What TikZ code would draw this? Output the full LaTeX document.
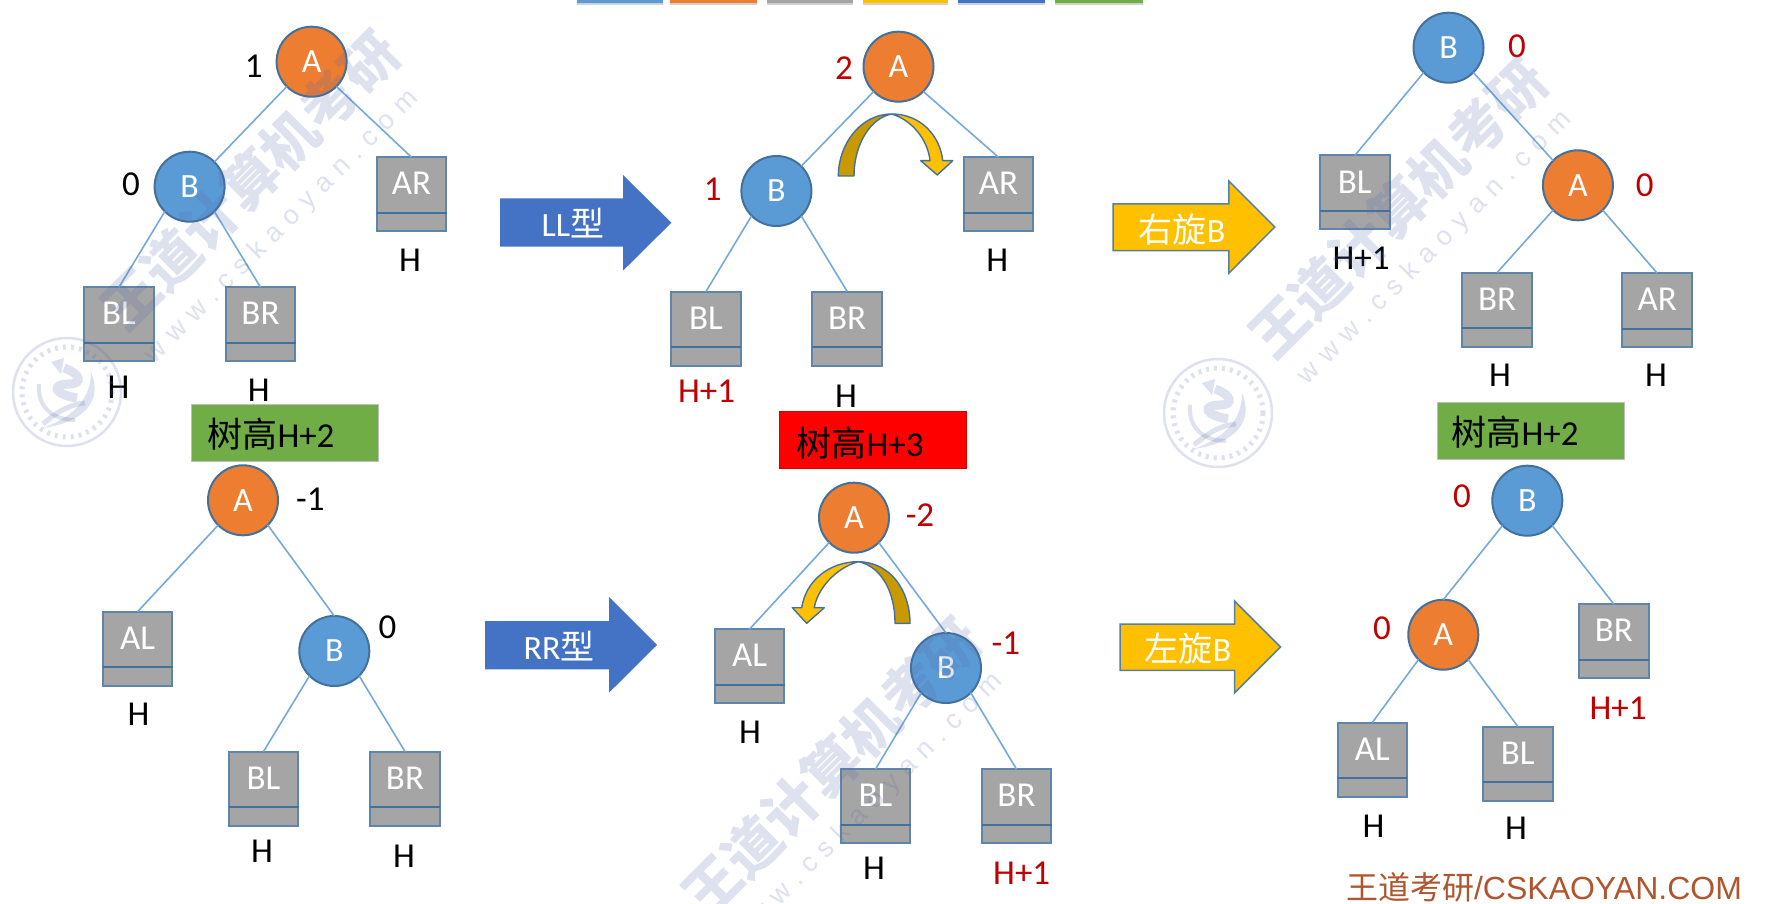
\documentclass[tikz,border=0pt]{standalone}
\usepackage{fontspec}
\setmainfont{Carlito}
\newfontfamily\cjk{Noto Sans CJK SC}
\newfontfamily\libs{Liberation Sans}
\definecolor{cblue}{HTML}{5B9BD5}
\definecolor{corange}{HTML}{ED7D31}
\definecolor{cgrey}{HTML}{A5A5A5}
\definecolor{cgold}{HTML}{FFC000}
\definecolor{cdgold}{HTML}{C99A00}
\definecolor{carrow}{HTML}{4472C4}
\definecolor{cgreen}{HTML}{70AD47}
\definecolor{cedge}{HTML}{41719C}
\definecolor{cdark}{HTML}{C00000}
\definecolor{cfoot}{HTML}{B0562F}
\definecolor{cwm}{RGB}{90,105,170}
\tikzset{
  fs/.style={font=\fontsize{#1}{#1}\selectfont},
  bnode/.style={circle,minimum size=70pt,inner sep=0pt,outer sep=0pt,draw=cedge,line width=2pt,text=white,fs=34},
  nodea/.style={bnode,fill=corange},
  nodeb/.style={bnode,fill=cblue},
  treebox/.style={rectangle,minimum width=69.5pt,minimum height=74pt,inner sep=0pt,outer sep=0pt,draw=cedge!85!white,line width=2pt,fill=cgrey},
  divline/.style={draw=cedge,line width=2.2pt},
  boxtext/.style={text=white,inner sep=0pt,fs=35},
  link/.style={draw=cblue!85!white,line width=1.6pt},
  lab/.style={inner sep=0pt,text=black,fs=35},
  rlab/.style={lab,text=cdark},
  heightbox/.style={rectangle,inner sep=0pt,outer sep=0pt,line width=1pt},
  heighttext/.style={inner sep=0pt,text=black,fs=35},
  bigarrow/.style={fill=carrow},
  goldarrow/.style={fill=cgold,draw=cedge!90!white,line width=1.5pt,line join=miter},
  arrowtext/.style={inner sep=0pt,text=white,fs=34},
  curlin/.style={draw=cedge,line width=1.4pt,line join=round},
  wmtext/.style={inner sep=0pt,text=cwm,text opacity=0.2,rotate=45},
}
\newcommand{\treebx}[4]{%
  \node[treebox] (#1) at (#2,#3+37.5) {};
  \draw[divline] (#2-35,#3+56) -- (#2+35,#3+56);
  \node[boxtext] (#1-t) at (#2,#3+27) {#4};
}
\newcommand{\seal}[3]{%
  \begin{scope}[shift={(#2,#3)},draw=cwm,opacity=0.2]
    \draw[line width=2.5pt] (0,0) circle (54);
    \draw[line width=5pt,dash pattern=on 3pt off 5pt] (0,0) circle (45);
    \draw[line width=4pt] (-28,-8) .. controls (-30,15) and (-14,28) .. (8,28);
    \draw[line width=9pt] (-3,-24) .. controls (14,-18) and (16,-8) .. (2,-8) .. controls (-16,-8) and (-14,2) .. (10,6);
    \draw[line width=5pt] (-24,32) .. controls (-8,18) and (5,12) .. (18,11);
    \fill[cwm] (24,-20) .. controls (36,8) and (18,30) .. (-24,36) .. controls (8,24) and (24,6) .. cycle;
    \fill[cwm] (-16,-30) -- (-3,-34) -- (-6,-18) -- cycle;
  \end{scope}
}
\begin{document}
\begin{tikzpicture}[x=1pt,y=-1pt]
\clip (0,0) rectangle (1780,904);
\fill[white] (0,0) rectangle (1780,904);

% palette strip at top edge
\foreach \xa/\xb/\cc in {577/663/cblue,670/757/corange,767/853/cgrey,863/948/cgold,958/1045/carrow,1055/1142.6/cgreen}{
  \fill[black!18] (\xa,0) rectangle (\xb,5.5);
  \fill[\cc] (\xa,0) rectangle (\xb,3.5);
}

% tree 1
\node[nodea] (t1a) at (311.6,61.7) {A};
\node[nodeb] (t1b) at (189.6,186.7) {B};
\treebx{t1ar}{411.5}{156.7}{AR}
\treebx{t1bl}{119}{286.7}{BL}
\treebx{t1br}{260.5}{286.7}{BR}
\draw[link] (t1a.south west) -- (t1b.north east);
\draw[link] (t1a.south east) -- (t1ar.north);
\draw[link] (t1b.south west) -- (t1bl.north);
\draw[link] (t1b.south east) -- (t1br.north);
\node[lab] (l1a) at (253.7,66.7) {1};
\node[lab] (l1b) at (131,184) {0};
\node[lab] (l1c) at (410,260) {H};
\node[lab] (l1d) at (118.6,387.7) {H};
\node[lab] (l1e) at (258.8,390.7) {H};
\node[heightbox,fill=cgreen,draw=black!25,minimum width=187pt,minimum height=57.5pt] (h1) at (285.4,433.2) {};
\node[heighttext] (h1t) at (271,434) {{\cjk 树高}H+2};

% arrow LL
\fill[bigarrow] (500,198.3) -- (623,198.3) -- (623,175) -- (671.4,222.7) -- (623,270.7) -- (623,246.7) -- (500,246.7) -- cycle;
\node[arrowtext] (a1) at (573,223) {LL{\cjk 型}};

% tree 2
\node[nodea] (t2a) at (898.5,66.7) {A};
\node[nodeb] (t2b) at (776.4,191) {B};
\treebx{t2ar}{998.4}{156.7}{AR}
\treebx{t2bl}{706}{291}{BL}
\treebx{t2br}{847.2}{291}{BR}
\draw[link] (t2a.south west) -- (t2b.north east);
\draw[link] (t2a.south east) -- (t2ar.north);
\draw[link] (t2b.south west) -- (t2bl.north);
\draw[link] (t2b.south east) -- (t2br.north);
\node[rlab] (l2a) at (844,68) {2};
\node[rlab] (l2b) at (712.8,189) {1};
\node[lab] (l2c) at (997.3,260) {H};
\node[rlab] (l2d) at (706.6,391.7) {H+1};
\node[lab] (l2e) at (846,396) {H};
\node[heightbox,fill=red,draw=cdark!70!red,minimum width=187pt,minimum height=57pt] (h2) at (872.5,440.2) {};
\node[heighttext] (h2t) at (860,443) {{\cjk 树高}H+3};
% curved arrow 1
\path[fill=cdgold,curlin] (838.3,176) .. controls (838.3,145) and (860,114) .. (891.7,114) .. controls (870,118) and (854,145) .. (854,176) -- cycle;
\path[fill=cgold,curlin] (891.7,114) .. controls (920,114) and (940,135) .. (942.7,160.7) -- (952.7,160.7) -- (937.3,175) -- (920.7,160.7) -- (930,160.7) .. controls (928,140) and (912,120) .. (891.7,114) -- cycle;

% arrow 右旋B
\path[goldarrow] (1113,204) -- (1228.8,204) -- (1228.8,181) -- (1274.8,227) -- (1228.8,273.3) -- (1228.8,250.7) -- (1113,250.7) -- cycle;
\node[arrowtext] (a2) at (1182,230) {{\cjk 右旋}B};

% tree 3
\node[nodeb] (t3b) at (1448.5,47.7) {B};
\node[nodea] (t3a) at (1577.9,185.3) {A};
\treebx{t3bl}{1354.8}{155}{BL}
\treebx{t3br}{1497.2}{272}{BR}
\treebx{t3ar}{1657.2}{272.7}{AR}
\draw[link] (t3b.south west) -- (t3bl.north);
\draw[link] (t3b.south east) -- (t3a.north west);
\draw[link] (t3a.south west) -- (t3br.north);
\draw[link] (t3a.south east) -- (t3ar.north);
\node[rlab] (l3a) at (1517,46.7) {0};
\node[rlab] (l3b) at (1644.8,185.3) {0};
\node[lab] (l3c) at (1361,258.3) {H+1};
\node[lab] (l3d) at (1500,375) {H};
\node[lab] (l3e) at (1656,375) {H};
\node[heightbox,fill=cgreen,draw=black!25,minimum width=187pt,minimum height=57pt] (h3) at (1531,431.3) {};
\node[heighttext] (h3t) at (1515,432) {{\cjk 树高}H+2};

% tree 4
\node[nodea] (t4a) at (243,500.3) {A};
\node[nodeb] (t4b) at (334.3,651) {B};
\treebx{t4al}{137.5}{611.3}{AL}
\treebx{t4bl}{263.5}{751}{BL}
\treebx{t4br}{405}{751}{BR}
\draw[link] (t4a.south west) -- (t4al.north);
\draw[link] (t4a.south east) -- (t4b.north);
\draw[link] (t4b.south west) -- (t4bl.north);
\draw[link] (t4b.south east) -- (t4br.north);
\node[lab] (l4a) at (310.4,499.7) {-1};
\node[lab] (l4b) at (387.6,627.7) {0};
\node[lab] (l4c) at (138.5,714.3) {H};
\node[lab] (l4d) at (262,851) {H};
\node[lab] (l4e) at (404,856) {H};

% arrow RR
\fill[bigarrow] (485,621) -- (609,621) -- (609,597) -- (657,645) -- (609,692.7) -- (609,669.3) -- (485,669.3) -- cycle;
\node[arrowtext] (a3) at (559,646) {RR{\cjk 型}};

% tree 5
\node[nodea] (t5a) at (854,517.7) {A};
\node[nodeb] (t5b) at (946,668) {B};
\treebx{t5al}{749.5}{628.7}{AL}
\treebx{t5bl}{875.5}{768.7}{BL}
\treebx{t5br}{1016.5}{768.7}{BR}
\draw[link] (t5a.south west) -- (t5al.north);
\draw[link] (t5a.south east) -- (t5b.north);
\draw[link] (t5b.south west) -- (t5bl.north);
\draw[link] (t5b.south east) -- (t5br.north);
\node[rlab] (l5a) at (920,515.3) {-2};
\node[rlab] (l5b) at (1005.8,643.7) {-1};
\node[lab] (l5c) at (750,732) {H};
\node[lab] (l5d) at (874,868.7) {H};
\node[rlab] (l5e) at (1021.7,873.7) {H+1};
% curved arrow 2
\path[fill=cdgold,curlin] (910,623.3) .. controls (910,590) and (890,562) .. (858.3,561.7) .. controls (880,566) and (895,590) .. (895,623.3) -- cycle;
\path[fill=cgold,curlin] (858.3,561.7) .. controls (830,561.7) and (806,580) .. (801.7,607.7) -- (792.3,607.7) -- (806.7,623.3) -- (824.3,607.7) -- (814.3,607.7) .. controls (817,590) and (835,568) .. (858.3,561.7) -- cycle;

% arrow 左旋B
\path[goldarrow] (1120,624) -- (1234.5,624) -- (1234.5,601) -- (1280.5,647) -- (1234.5,693) -- (1234.5,670.3) -- (1120,670.3) -- cycle;
\node[arrowtext] (a4) at (1188,648.7) {{\cjk 左旋}B};

% tree 6
\node[nodeb] (t6b) at (1527.3,500.7) {B};
\node[nodea] (t6a) at (1443.3,634.7) {A};
\treebx{t6br}{1613.9}{603.7}{BR}
\treebx{t6al}{1372.3}{722}{AL}
\treebx{t6bl}{1517.8}{726}{BL}
\draw[link] (t6b.south west) -- (t6a.north);
\draw[link] (t6b.south east) -- (t6br.north);
\draw[link] (t6a.south west) -- (t6al.north);
\draw[link] (t6a.south east) -- (t6bl.north);
\node[rlab] (l6a) at (1462,496.3) {0};
\node[rlab] (l6b) at (1382,628.7) {0};
\node[rlab] (l6c) at (1618,708.7) {H+1};
\node[lab] (l6d) at (1373.5,826) {H};
\node[lab] (l6e) at (1516,828) {H};

% footer
\node[inner sep=0pt,text=cfoot,fs=32] (foot) at (1544,887) {{\cjk 王道考研}{\libs /CSKAOYAN.COM}};

% watermarks
\foreach \nm/\xa/\ya/\xb/\yb in {w/250/180/282/227,x/1398/208/1435/248,y/831/767/866/810}{
  \node[wmtext,fs=56] (\nm1) at (\xa,\ya) {\cjk\bfseries 王道计算机考研};
  \node[wmtext,fs=27] (\nm2) at (\xb,\yb) {\libs w\,\,w\,\,w\,\,.\,\,c\,\,s\,\,k\,\,a\,\,o\,\,y\,\,a\,\,n\,\,.\,\,c\,\,o\,\,m};
}
\seal{s1}{67}{392}
\seal{s2}{1218}{413}
\end{tikzpicture}
\end{document}
